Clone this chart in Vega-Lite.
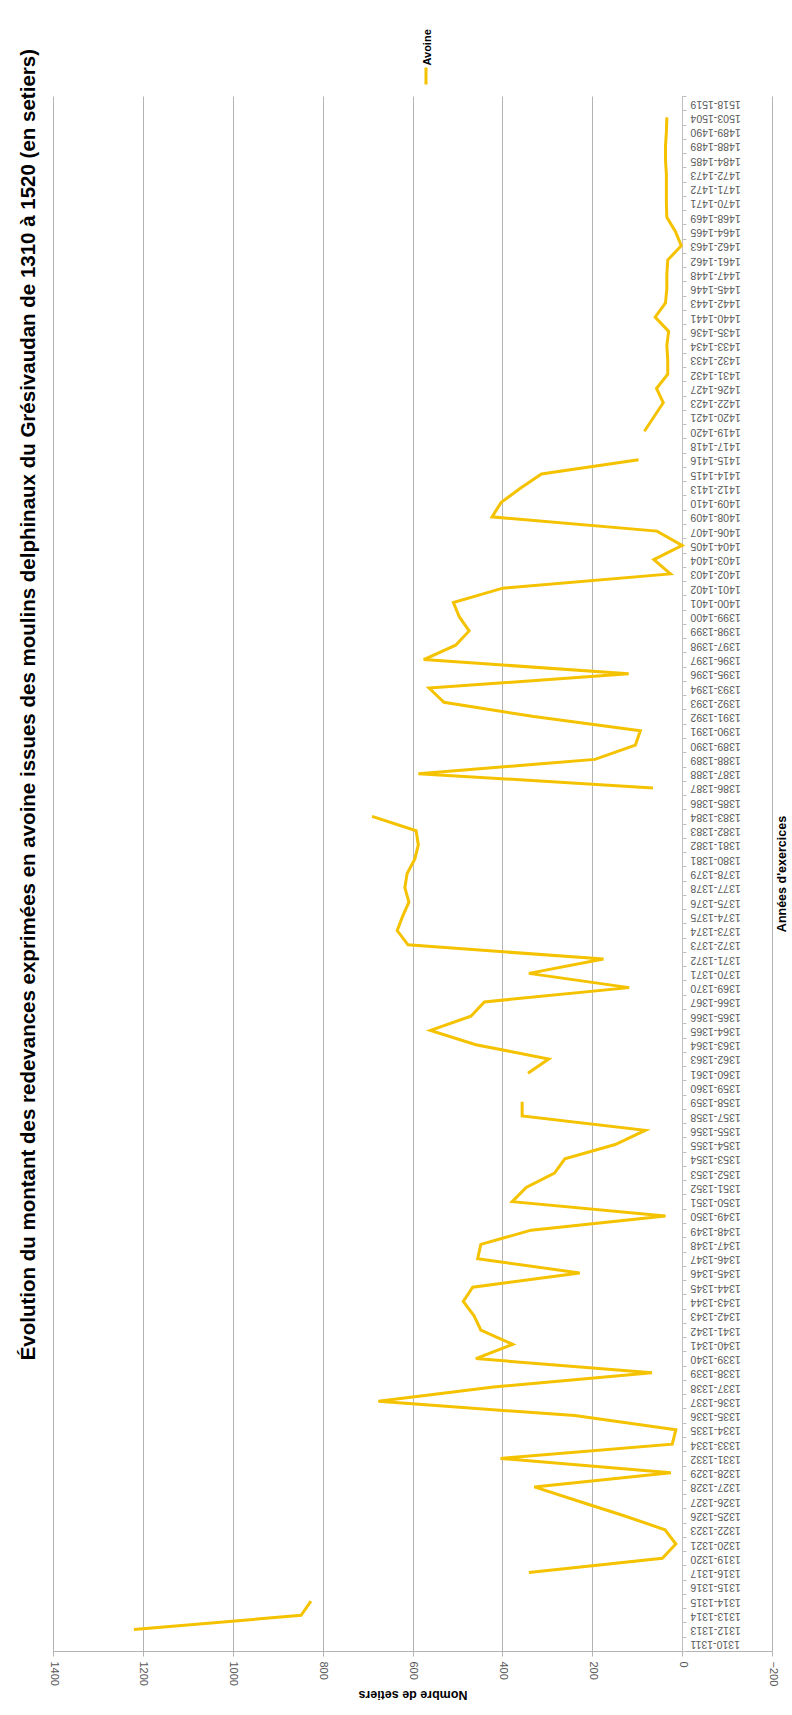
{
  "$schema": "https://vega.github.io/schema/vega-lite/v6.json",
  "width": 719,
  "height": 1555,
  "autosize": "none",
  "padding": {"left": 53, "top": 96, "right": 20, "bottom": 64},
  "background": "white",
  "title": {
    "text": "Évolution du montant des redevances exprimées en avoine  issues des moulins delphinaux du Grésivaudan de 1310 à 1520 (en setiers)",
    "orient": "left",
    "anchor": "end",
    "frame": "group",
    "offset": 9,
    "dx": 47,
    "font": "Liberation Sans",
    "fontSize": 20.5,
    "fontWeight": "bold",
    "color": "#000000"
  },
  "data": {
    "values": [
      {"annee": "1310-1311", "debut": 1310, "setiers": null, "serie": "Avoine"},
      {"annee": "1312-1313", "debut": 1312, "setiers": 1220, "serie": "Avoine"},
      {"annee": "1313-1314", "debut": 1313, "setiers": 848, "serie": "Avoine"},
      {"annee": "1314-1315", "debut": 1314, "setiers": 826, "serie": "Avoine"},
      {"annee": "1315-1316", "debut": 1315, "setiers": null, "serie": "Avoine"},
      {"annee": "1316-1317", "debut": 1316, "setiers": 341, "serie": "Avoine"},
      {"annee": "1319-1320", "debut": 1319, "setiers": 44, "serie": "Avoine"},
      {"annee": "1320-1321", "debut": 1320, "setiers": 14, "serie": "Avoine"},
      {"annee": "1322-1323", "debut": 1322, "setiers": 38, "serie": "Avoine"},
      {"annee": "1325-1326", "debut": 1325, "setiers": 131, "serie": "Avoine"},
      {"annee": "1326-1327", "debut": 1326, "setiers": 230, "serie": "Avoine"},
      {"annee": "1327-1328", "debut": 1327, "setiers": 329, "serie": "Avoine"},
      {"annee": "1328-1329", "debut": 1328, "setiers": 25, "serie": "Avoine"},
      {"annee": "1331-1332", "debut": 1331, "setiers": 404, "serie": "Avoine"},
      {"annee": "1333-1334", "debut": 1333, "setiers": 22, "serie": "Avoine"},
      {"annee": "1334-1335", "debut": 1334, "setiers": 14, "serie": "Avoine"},
      {"annee": "1335-1336", "debut": 1335, "setiers": 239, "serie": "Avoine"},
      {"annee": "1336-1337", "debut": 1336, "setiers": 676, "serie": "Avoine"},
      {"annee": "1337-1338", "debut": 1337, "setiers": 420, "serie": "Avoine"},
      {"annee": "1338-1339", "debut": 1338, "setiers": 67, "serie": "Avoine"},
      {"annee": "1339-1340", "debut": 1339, "setiers": 459, "serie": "Avoine"},
      {"annee": "1340-1341", "debut": 1340, "setiers": 377, "serie": "Avoine"},
      {"annee": "1341-1342", "debut": 1341, "setiers": 448, "serie": "Avoine"},
      {"annee": "1342-1343", "debut": 1342, "setiers": 463, "serie": "Avoine"},
      {"annee": "1343-1344", "debut": 1343, "setiers": 487, "serie": "Avoine"},
      {"annee": "1344-1345", "debut": 1344, "setiers": 466, "serie": "Avoine"},
      {"annee": "1345-1346", "debut": 1345, "setiers": 228, "serie": "Avoine"},
      {"annee": "1346-1347", "debut": 1346, "setiers": 455, "serie": "Avoine"},
      {"annee": "1347-1348", "debut": 1347, "setiers": 448, "serie": "Avoine"},
      {"annee": "1348-1349", "debut": 1348, "setiers": 336, "serie": "Avoine"},
      {"annee": "1349-1350", "debut": 1349, "setiers": 37, "serie": "Avoine"},
      {"annee": "1350-1351", "debut": 1350, "setiers": 378, "serie": "Avoine"},
      {"annee": "1351-1352", "debut": 1351, "setiers": 347, "serie": "Avoine"},
      {"annee": "1352-1353", "debut": 1352, "setiers": 284, "serie": "Avoine"},
      {"annee": "1353-1354", "debut": 1353, "setiers": 261, "serie": "Avoine"},
      {"annee": "1354-1355", "debut": 1354, "setiers": 149, "serie": "Avoine"},
      {"annee": "1355-1356", "debut": 1355, "setiers": 82, "serie": "Avoine"},
      {"annee": "1357-1358", "debut": 1357, "setiers": 356, "serie": "Avoine"},
      {"annee": "1358-1359", "debut": 1358, "setiers": 356, "serie": "Avoine"},
      {"annee": "1359-1360", "debut": 1359, "setiers": null, "serie": "Avoine"},
      {"annee": "1360-1361", "debut": 1360, "setiers": 343, "serie": "Avoine"},
      {"annee": "1362-1363", "debut": 1362, "setiers": 297, "serie": "Avoine"},
      {"annee": "1363-1364", "debut": 1363, "setiers": 459, "serie": "Avoine"},
      {"annee": "1364-1365", "debut": 1364, "setiers": 560, "serie": "Avoine"},
      {"annee": "1365-1366", "debut": 1365, "setiers": 470, "serie": "Avoine"},
      {"annee": "1366-1367", "debut": 1366, "setiers": 440, "serie": "Avoine"},
      {"annee": "1369-1370", "debut": 1369, "setiers": 118, "serie": "Avoine"},
      {"annee": "1370-1371", "debut": 1370, "setiers": 341, "serie": "Avoine"},
      {"annee": "1371-1372", "debut": 1371, "setiers": 175, "serie": "Avoine"},
      {"annee": "1372-1373", "debut": 1372, "setiers": 610, "serie": "Avoine"},
      {"annee": "1373-1374", "debut": 1373, "setiers": 634, "serie": "Avoine"},
      {"annee": "1374-1375", "debut": 1374, "setiers": 622, "serie": "Avoine"},
      {"annee": "1375-1376", "debut": 1375, "setiers": 608, "serie": "Avoine"},
      {"annee": "1377-1378", "debut": 1377, "setiers": 617, "serie": "Avoine"},
      {"annee": "1378-1379", "debut": 1378, "setiers": 612, "serie": "Avoine"},
      {"annee": "1380-1381", "debut": 1380, "setiers": 595, "serie": "Avoine"},
      {"annee": "1381-1382", "debut": 1381, "setiers": 587, "serie": "Avoine"},
      {"annee": "1382-1383", "debut": 1382, "setiers": 592, "serie": "Avoine"},
      {"annee": "1383-1384", "debut": 1383, "setiers": 690, "serie": "Avoine"},
      {"annee": "1385-1386", "debut": 1385, "setiers": null, "serie": "Avoine"},
      {"annee": "1386-1387", "debut": 1386, "setiers": 65, "serie": "Avoine"},
      {"annee": "1387-1388", "debut": 1387, "setiers": 587, "serie": "Avoine"},
      {"annee": "1388-1389", "debut": 1388, "setiers": 194, "serie": "Avoine"},
      {"annee": "1389-1390", "debut": 1389, "setiers": 104, "serie": "Avoine"},
      {"annee": "1390-1391", "debut": 1390, "setiers": 93, "serie": "Avoine"},
      {"annee": "1391-1392", "debut": 1391, "setiers": 330, "serie": "Avoine"},
      {"annee": "1392-1393", "debut": 1392, "setiers": 530, "serie": "Avoine"},
      {"annee": "1393-1394", "debut": 1393, "setiers": 563, "serie": "Avoine"},
      {"annee": "1395-1396", "debut": 1395, "setiers": 119, "serie": "Avoine"},
      {"annee": "1396-1397", "debut": 1396, "setiers": 575, "serie": "Avoine"},
      {"annee": "1397-1398", "debut": 1397, "setiers": 504, "serie": "Avoine"},
      {"annee": "1398-1399", "debut": 1398, "setiers": 474, "serie": "Avoine"},
      {"annee": "1399-1400", "debut": 1399, "setiers": 496, "serie": "Avoine"},
      {"annee": "1400-1401", "debut": 1400, "setiers": 509, "serie": "Avoine"},
      {"annee": "1401-1402", "debut": 1401, "setiers": 399, "serie": "Avoine"},
      {"annee": "1402-1403", "debut": 1402, "setiers": 26, "serie": "Avoine"},
      {"annee": "1403-1404", "debut": 1403, "setiers": 63, "serie": "Avoine"},
      {"annee": "1404-1405", "debut": 1404, "setiers": 0, "serie": "Avoine"},
      {"annee": "1406-1407", "debut": 1406, "setiers": 56, "serie": "Avoine"},
      {"annee": "1408-1409", "debut": 1408, "setiers": 423, "serie": "Avoine"},
      {"annee": "1409-1410", "debut": 1409, "setiers": 403, "serie": "Avoine"},
      {"annee": "1412-1413", "debut": 1412, "setiers": 360, "serie": "Avoine"},
      {"annee": "1414-1415", "debut": 1414, "setiers": 313, "serie": "Avoine"},
      {"annee": "1415-1416", "debut": 1415, "setiers": 97, "serie": "Avoine"},
      {"annee": "1417-1418", "debut": 1417, "setiers": null, "serie": "Avoine"},
      {"annee": "1419-1420", "debut": 1419, "setiers": 84, "serie": "Avoine"},
      {"annee": "1420-1421", "debut": 1420, "setiers": 63, "serie": "Avoine"},
      {"annee": "1422-1423", "debut": 1422, "setiers": 42, "serie": "Avoine"},
      {"annee": "1426-1427", "debut": 1426, "setiers": 57, "serie": "Avoine"},
      {"annee": "1431-1432", "debut": 1431, "setiers": 32, "serie": "Avoine"},
      {"annee": "1432-1433", "debut": 1432, "setiers": 32, "serie": "Avoine"},
      {"annee": "1433-1434", "debut": 1433, "setiers": 34, "serie": "Avoine"},
      {"annee": "1435-1436", "debut": 1435, "setiers": 30, "serie": "Avoine"},
      {"annee": "1440-1441", "debut": 1440, "setiers": 60, "serie": "Avoine"},
      {"annee": "1442-1443", "debut": 1442, "setiers": 37, "serie": "Avoine"},
      {"annee": "1445-1446", "debut": 1445, "setiers": 34, "serie": "Avoine"},
      {"annee": "1447-1448", "debut": 1447, "setiers": 34, "serie": "Avoine"},
      {"annee": "1461-1462", "debut": 1461, "setiers": 32, "serie": "Avoine"},
      {"annee": "1462-1463", "debut": 1462, "setiers": 2, "serie": "Avoine"},
      {"annee": "1464-1465", "debut": 1464, "setiers": 15, "serie": "Avoine"},
      {"annee": "1468-1469", "debut": 1468, "setiers": 34, "serie": "Avoine"},
      {"annee": "1470-1471", "debut": 1470, "setiers": 35, "serie": "Avoine"},
      {"annee": "1471-1472", "debut": 1471, "setiers": 35, "serie": "Avoine"},
      {"annee": "1472-1473", "debut": 1472, "setiers": 35, "serie": "Avoine"},
      {"annee": "1484-1485", "debut": 1484, "setiers": 37, "serie": "Avoine"},
      {"annee": "1488-1489", "debut": 1488, "setiers": 37, "serie": "Avoine"},
      {"annee": "1489-1490", "debut": 1489, "setiers": 35, "serie": "Avoine"},
      {"annee": "1503-1504", "debut": 1503, "setiers": 34, "serie": "Avoine"},
      {"annee": "1518-1519", "debut": 1518, "setiers": null, "serie": "Avoine"}
    ]
  },
  "mark": {"type": "line", "strokeWidth": 3, "invalid": "break-paths-show-domains"},
  "encoding": {
    "y": {
      "field": "annee",
      "type": "ordinal",
      "sort": "descending",
      "scale": {"type": "band", "paddingInner": 0, "paddingOuter": 0},
      "axis": {
        "orient": "right",
        "offset": -90,
        "title": "Années d'exercices",
        "titleAngle": 270,
        "titleFont": "Liberation Sans",
        "titleFontSize": 12.5,
        "titleFontWeight": "bold",
        "titleColor": "#000000",
        "titlePadding": 48,
        "labelAngle": 180,
        "labelAlign": "right",
        "labelBaseline": "middle",
        "labelFont": "Liberation Sans",
        "labelFontSize": 10.5,
        "labelColor": "#595959",
        "labelPadding": 4,
        "labelOverlap": false,
        "labelBound": false,
        "labelFlush": false,
        "tickSize": 4,
        "tickColor": "#bfbfbf",
        "tickBand": "extent",
        "domainColor": "#bfbfbf",
        "grid": false
      }
    },
    "x": {
      "field": "setiers",
      "type": "quantitative",
      "scale": {"domain": [-200, 1400], "reverse": true, "nice": false, "zero": false},
      "axis": {
        "orient": "bottom",
        "values": [-200, 0, 200, 400, 600, 800, 1000, 1200, 1400],
        "format": "d",
        "title": "Nombre de setiers",
        "titleAngle": 180,
        "titleFont": "Liberation Sans",
        "titleFontSize": 12.5,
        "titleFontWeight": "bold",
        "titleColor": "#000000",
        "titlePadding": 15,
        "labelAngle": 90,
        "labelAlign": "left",
        "labelBaseline": "middle",
        "labelFont": "Liberation Sans",
        "labelFontSize": 11,
        "labelColor": "#595959",
        "labelPadding": 5,
        "labelFlush": false,
        "tickSize": 5,
        "tickColor": "#b3b3b3",
        "domainColor": "#b3b3b3",
        "grid": true,
        "gridColor": "#b3b3b3"
      }
    },
    "color": {
      "field": "serie",
      "type": "nominal",
      "scale": {"range": ["#F5C200"]},
      "legend": {
        "title": null,
        "orient": "none",
        "legendX": 363,
        "legendY": -30,
        "padding": 0,
        "symbolType": "M0,-1L0,1",
        "symbolSize": 289,
        "symbolStrokeWidth": 3,
        "labelFont": "Liberation Sans",
        "labelFontSize": 11,
        "labelFontWeight": "bold",
        "labelColor": "#000000",
        "labelOffset": -8.5,
        "encoding": {
          "labels": {
            "angle": {"value": -90},
            "align": {"value": "left"},
            "baseline": {"value": "middle"},
            "dx": {"value": 10.5}
          }
        }
      }
    },
    "order": {"field": "debut", "type": "quantitative"}
  },
  "config": {"view": {"stroke": null}}
}
